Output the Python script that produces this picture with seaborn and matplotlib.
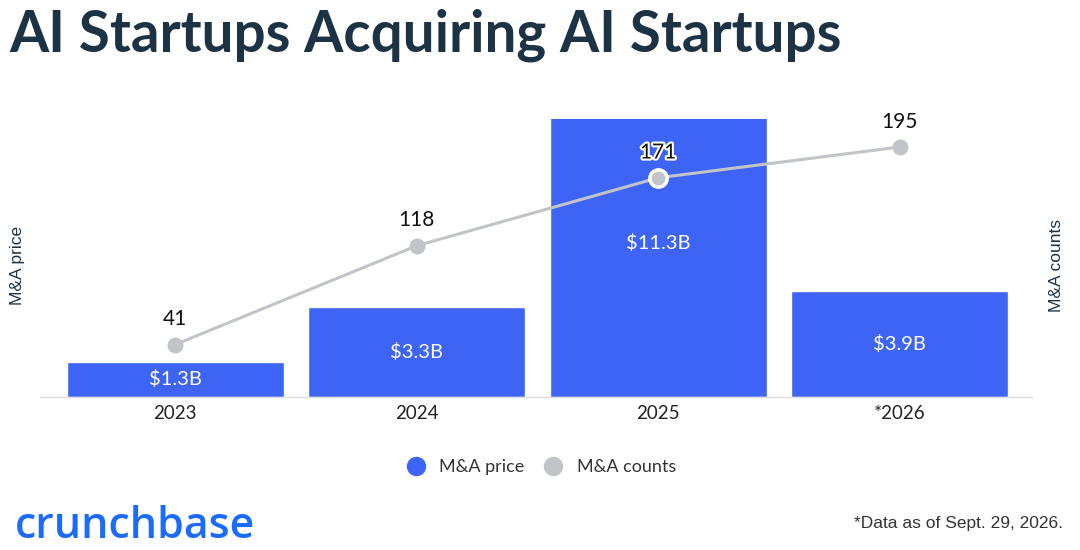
import matplotlib
matplotlib.use("Agg")
import matplotlib.pyplot as plt
import matplotlib.patheffects as pe
from matplotlib.lines import Line2D
from matplotlib.transforms import offset_copy
import seaborn as sns
import pandas as pd

years = ["2023", "2024", "2025", "*2026"]
price_b = [1.3, 3.3, 11.3, 3.9]
price_labels = ["$1.3B", "$3.3B", "$11.3B", "$3.9B"]
counts = [41, 118, 171, 195]

sns.set_theme(style="white")
plt.rcParams["font.family"] = ["Lato", "DejaVu Sans"]

BLUE = "#3d64f4"
GRAY = "#c1c4c9"
NAVY = "#1c3346"

df = pd.DataFrame({"year": years, "price": price_b, "count": counts})

fig = plt.figure(figsize=(10.8, 5.5), dpi=100)
ax = fig.add_axes([0.037, 0.278, 0.919, 0.506])
sns.barplot(data=df, x="year", y="price", color=BLUE, width=0.9, saturation=1, ax=ax, zorder=1)
ax.set_ylim(0, 10.2)
ax.set_xlim(-0.56, 3.55)
for i, (v, lab) in enumerate(zip(price_b, price_labels)):
    ax.text(i, v / 2, lab, ha="center", va="center", color="white", fontsize=14.5, zorder=3)

ax2 = ax.twinx()
sns.lineplot(x=list(range(len(years))), y=counts, ax=ax2, color=GRAY, linewidth=2.2,
             marker="o", markersize=11.5, markeredgewidth=0, markerfacecolor=GRAY, zorder=2)
# highlight 2025 point with white edge
ax2.plot([2], [counts[2]], marker="o", markersize=12.5, markerfacecolor=GRAY,
         markeredgecolor="white", markeredgewidth=2.5, linestyle="none", zorder=4)
ax2.set_ylim(0, 217)
ax2.set_xlim(-0.56, 3.55)
label_tr = offset_copy(ax2.transData, fig=fig, x=0, y=11, units="points")
for i, c in enumerate(counts):
    t = ax2.text(i, c, str(c), ha="center", va="bottom", fontsize=15, color="#111111",
                 zorder=5, transform=label_tr)
    if i == 2:
        t.set_path_effects([pe.withStroke(linewidth=3, foreground="white")])

for a in (ax, ax2):
    for s in a.spines.values():
        s.set_visible(False)
    a.set_yticks([])
    a.set_ylabel("")
ax.spines["bottom"].set_visible(True)
ax.spines["bottom"].set_color("#dcdcdc")
ax.spines["bottom"].set_linewidth(1)
ax.set_xlabel("")
ax.tick_params(axis="x", length=0, labelsize=13.5, colors="#222222", pad=6)

fig.text(0.016, 0.518, "M&A price", rotation=90, ha="center", va="center",
         fontsize=12.5, color=NAVY, family=["Liberation Sans", "DejaVu Sans"])
fig.text(0.978, 0.518, "M&A counts", rotation=90, ha="center", va="center",
         fontsize=12.5, color=NAVY, family=["Liberation Sans", "DejaVu Sans"])

fig.text(0.009, 0.935, "AI Startups Acquiring AI Startups", ha="left", va="center",
         fontsize=40.7, fontweight="bold", color=NAVY)

handles = [Line2D([0], [0], marker="o", linestyle="none", markersize=14, markerfacecolor=BLUE,
                  markeredgewidth=0, label="M&A price"),
           Line2D([0], [0], marker="o", linestyle="none", markersize=14, markerfacecolor=GRAY,
                  markeredgewidth=0, label="M&A counts")]
fig.legend(handles=handles, loc="center", bbox_to_anchor=(0.497, 0.151), ncol=2, frameon=False,
           fontsize=13, handletextpad=0.3, columnspacing=0.6, labelcolor="#333333")

fig.text(0.014, 0.042, "crunchbase", ha="left", va="center", fontsize=31, fontweight="semibold",
         color="#1b6bff", family=["Open Sans", "DejaVu Sans"])
fig.text(0.791, 0.048, "*Data as of Sept. 29, 2026.", ha="left", va="center", fontsize=12.5,
         color="#333333", family=["Liberation Sans", "DejaVu Sans"])

fig.savefig("out.png", dpi=100, facecolor="white")
